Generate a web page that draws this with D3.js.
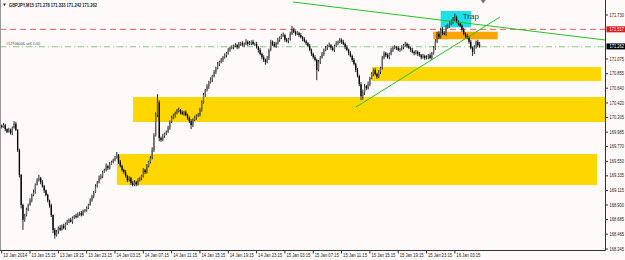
<!DOCTYPE html>
<html lang="en">
<head>
<meta charset="UTF-8">
<title>GBPJPY M15</title>
<script src="https://cdn.jsdelivr.net/npm/d3@7"></script>
<style>
  body { margin: 0; background: #fffafa; }
  svg text { font-family: "Liberation Sans", "DejaVu Sans", sans-serif; }
</style>
</head>
<body>
<svg id="chart" width="625" height="260"></svg>
<script>
// header of the chart window
const symbolInfo = "GBPJPY,M15  171.278 171.333 171.242 171.262";
const orderText = "#12706006 sell 1.00";

// M15 candles, open = previous close
const firstOpen = 170.08;
const closes = [
  170.06,170.09,170.03,169.99,170.02,169.97,170.05,170.11,170.02,
  169.72,169.35,168.90,168.68,
  168.75,168.83,168.90,168.97,169.05,169.09,169.20,169.27,
  169.30,169.24,169.18,169.12,169.05,
  168.97,168.90,168.75,168.53,168.45,
  168.50,168.56,168.53,168.59,168.56,168.62,168.65,
  168.68,168.65,168.71,168.74,168.72,168.77,168.78,168.75,168.81,168.83,168.86,
  168.90,168.97,169.03,169.09,169.18,169.24,169.30,
  169.33,169.39,169.42,169.48,169.45,169.51,169.54,169.57,169.60,169.64,
  169.54,169.48,169.42,169.39,169.33,169.27,169.30,169.23,169.20,
  169.24,169.21,169.27,169.30,169.33,169.42,169.39,169.48,169.54,
  169.60,169.72,169.94,170.24,170.43,
  169.90,169.87,169.93,169.96,169.99,170.05,170.14,170.20,
  170.23,170.27,170.30,170.31,170.28,170.26,170.28,170.24,170.20,170.15,170.09,
  170.17,170.20,170.23,170.24,170.31,170.43,
  170.54,170.61,170.67,170.73,170.76,170.82,170.88,170.94,171.00,
  171.03,171.06,171.10,171.13,171.16,171.21,171.24,
  171.25,171.27,171.28,171.25,171.30,171.31,171.28,171.30,171.33,171.30,171.31,171.33,171.30,
  171.30,171.25,171.21,171.15,171.10,171.06,171.03,171.09,171.21,
  171.33,171.30,171.27,171.31,171.36,171.39,171.42,171.43,171.36,171.34,171.37,171.45,171.51,
  171.48,171.45,171.46,171.43,171.40,171.37,171.34,171.31,171.27,171.21,171.15,171.10,171.06,170.91,
  171.03,171.10,171.15,171.21,171.24,171.27,171.28,171.24,171.21,171.27,171.31,171.33,171.36,171.33,171.30,
  171.25,171.21,171.16,171.12,171.06,171.00,170.91,170.82,170.70,170.52,170.58,
  170.67,170.64,170.70,170.79,170.85,170.91,170.85,170.81,170.88,170.94,171.09,
  171.16,171.13,171.10,171.15,171.21,171.24,171.25,171.24,171.21,171.22,
  171.25,171.28,171.30,171.27,171.24,171.21,171.18,171.16,171.18,171.15,171.13,171.10,171.12,171.09,171.10,171.13,171.09,171.16,
  171.24,171.33,171.45,171.40,171.51,171.46,171.45,171.54,171.57,171.60,171.63,171.66,171.69,
  171.63,171.60,171.57,171.51,171.45,171.42,171.39,171.33,171.24,171.18,171.25,171.33,171.28,171.262
];
// wick lengths in pips (0.01)
const upWickPips = [
  2,3,2,1,3,2,2,4,3, 1,2,1,2, 2,3,2,3,2,4,2,3, 5,2,3,2,1, 2,1,2,1,3, 3,2,4,2,3,2,3,
  2,3,2,1,3,2,2,3,2,1,2, 2,3,2,2,3,2,4, 3,2,2,4,2,3,2,2,3,5, 2,3,2,2,3,2,3,2,3,
  3,2,3,2,2,3,2,3,2, 3,4,3,4,12, 3,2,3,2,2,3,2,3, 3,2,3,4,2,3,2,3,2,2,3, 2,3,2,3,4,3,
  3,2,3,2,4,2,3,2,3, 2,3,2,3,2,3,2, 3,2,3,2,3,2,3,2,4,2,3,2,3, 2,3,2,3,2,3,2,3,2,
  3,2,3,2,3,2,3,4,2,3,2,3,6, 3,2,3,2,3,2,3,2,2,3,2,2,3,2, 3,2,3,2,3,2,4,2,3,2,3,2,3,2,3,
  2,3,2,3,2,3,2,3,2,3,4, 3,2,4,2,3,2,3,2,3,2,3, 3,2,3,2,3,2,3,2,3,2,
  3,2,3,2,3,2,3,2,3,2,3,2,3,2,3,2,3,2, 3,4,3,4,3,4,3,4,3,4,3,4,6, 3,2,3,2,3,2,3,2,3,2,3,2,3,5
];
const downWickPips = [
  2,1,3,2,1,2,3,1,2, 3,4,5,15, 3,2,2,1,3,2,2,1, 2,3,2,4,2, 3,4,3,5,5, 2,3,2,1,2,3,2,
  2,1,3,2,2,1,3,2,1,2,3, 2,1,2,3,1,2,2, 2,3,1,2,3,2,1,2,2,1, 3,2,2,3,2,3,2,3,2,
  2,3,2,2,3,2,3,2,2, 2,2,3,2,3, 5,3,2,3,2,2,3,2, 2,3,2,2,3,2,3,2,3,3,6, 3,2,3,2,2,2,
  2,3,2,4,2,3,2,3,2, 3,2,3,2,3,2,3, 2,3,2,3,2,3,2,3,2,3,2,3,2, 3,2,4,2,3,3,4,2,3,
  2,3,2,3,2,3,2,2,3,2,3,2,2, 2,3,2,3,2,3,2,3,2,2,3,2,2,15, 2,3,2,3,2,3,2,3,2,3,2,3,2,3,2,
  3,2,3,2,3,2,3,2,3,6,5, 4,3,2,3,2,3,2,3,2,3,2, 2,3,2,3,2,3,2,3,2,3,
  2,3,2,3,2,3,2,3,2,3,2,3,2,3,2,3,2,3, 2,3,2,3,2,3,2,3,2,3,2,3,2, 2,3,2,3,2,3,2,3,2,6,3,2,3,2
];

// time axis: one label every 16 bars
const timeLabels = ["13 Jan 2014","13 Jan 15:15","13 Jan 19:15","13 Jan 23:15","14 Jan 03:15",
  "14 Jan 07:15","14 Jan 11:15","14 Jan 15:15","14 Jan 19:15","14 Jan 23:15","15 Jan 03:15",
  "15 Jan 07:15","15 Jan 11:15","15 Jan 15:15","15 Jan 19:15","15 Jan 23:15","16 Jan 03:15"];
const barsPerLabel = 16;
const priceTicks = [171.730,171.075,170.855,170.640,170.420,170.205,169.985,169.770,
  169.550,169.335,169.115,168.900,168.685,168.465,168.245];

// drawn objects, in bar index / price
const zoneNames = ["lowZone", "midZone", "highZone", "entryZone", "trapZone"];
const zoneBars = [[65.1, 336.3], [74.2, 341], [209.2, 338.6], [243.8, 280.2], [248, 265.1]];
const zonePrices = [[169.659, 169.198], [170.508, 170.136], [170.955, 170.747], [171.481, 171.368], [171.789, 171.546]];
const trendLines = [[164.6, 171.923, 341, 171.357], [200.2, 170.359, 281.5, 171.700]];
const stopPrice = 171.517;
const orderPrice = 171.257;
const bidPrice = 171.262;

const zoneColor = {lowZone: "#ffd700", midZone: "#ffd700", highZone: "#ffd700", entryZone: "#ffa500", trapZone: "#1ee0ea"};

const svg = d3.select("#chart");
const plotRight = 605.5, plotBottom = 250.5;

const x = d3.scaleLinear().domain([0, 341]).range([1.7, 605.3]);
const y = d3.scaleLinear().domain([168.245, 171.730]).range([249, 15]);

svg.append("rect").attr("width", 625).attr("height", 260).attr("fill", "#fffafa");

svg.append("clipPath").attr("id", "plot")
  .append("rect").attr("x", 0).attr("y", 0).attr("width", plotRight).attr("height", plotBottom);
const g = svg.append("g").attr("clip-path", "url(#plot)");

// zones behind the candles
g.selectAll("rect.zone").data(zoneNames).enter().append("rect")
  .attr("class", "zone")
  .attr("x", (d, i) => x(zoneBars[i][0]))
  .attr("width", (d, i) => x(zoneBars[i][1]) - x(zoneBars[i][0]))
  .attr("y", (d, i) => y(zonePrices[i][0]))
  .attr("height", (d, i) => y(zonePrices[i][1]) - y(zonePrices[i][0]))
  .attr("fill", d => zoneColor[d]);

// horizontal levels
g.append("line").attr("x1", 0).attr("x2", plotRight)
  .attr("y1", y(stopPrice)).attr("y2", y(stopPrice))
  .attr("stroke", "#e85a5a").attr("stroke-width", 1).attr("stroke-dasharray", "6,4");
g.append("line").attr("x1", 0).attr("x2", plotRight)
  .attr("y1", y(orderPrice)).attr("y2", y(orderPrice))
  .attr("stroke", "#7ccc7c").attr("stroke-width", 1).attr("stroke-dasharray", "6,3,1,3");

// candles
const candles = closes.map((c, i) => {
  const o = i === 0 ? firstOpen : closes[i - 1];
  return {
    i: i, o: o, c: c,
    h: Math.max(o, c) + (upWickPips[i] || 0) / 100,
    l: Math.min(o, c) - (downWickPips[i] || 0) / 100
  };
});
const cg = g.append("g");
cg.selectAll("line.wick").data(candles).enter().append("line")
  .attr("class", "wick")
  .attr("x1", d => x(d.i)).attr("x2", d => x(d.i))
  .attr("y1", d => y(d.h)).attr("y2", d => y(d.l))
  .attr("stroke", "#111").attr("stroke-width", 0.9);
cg.selectAll("rect.body").data(candles).enter().append("rect")
  .attr("class", "body")
  .attr("x", d => x(d.i) - 0.65).attr("width", 1.3)
  .attr("y", d => y(Math.max(d.o, d.c)))
  .attr("height", d => Math.max(0.8, Math.abs(y(d.o) - y(d.c))))
  .attr("fill", d => d.c >= d.o ? "#666" : "#000");

// trend lines
g.selectAll("line.trend").data(trendLines).enter().append("line")
  .attr("class", "trend")
  .attr("x1", d => x(d[0])).attr("y1", d => y(d[1]))
  .attr("x2", d => x(d[2])).attr("y2", d => y(d[3]))
  .attr("stroke", "#22c322").attr("stroke-width", 1);

// trap label
const trapIdx = zoneNames.indexOf("trapZone");
svg.append("text")
  .attr("x", x(zoneBars[trapIdx][0]) + 22).attr("y", y(zonePrices[trapIdx][0]) + 8)
  .attr("font-size", 8).attr("fill", "#333").text("Trap");

// window texts
svg.append("path").attr("d", "M3,3.5 L6,3.5 L4.5,6 Z").attr("fill", "#222");
svg.append("text").attr("x", 9).attr("y", 7).attr("font-size", 4.8).attr("font-weight", "bold")
  .attr("fill", "#222").attr("textLength", 88).attr("lengthAdjust", "spacingAndGlyphs")
  .text(symbolInfo);
svg.append("text").attr("x", 6).attr("y", y(orderPrice) - 1.8).attr("font-size", 4.4).attr("fill", "#445")
  .attr("textLength", 34).attr("lengthAdjust", "spacingAndGlyphs")
  .text(orderText);

// chart shift marker
const shiftX = x(272);
svg.append("path").attr("d", `M${shiftX - 2.5},0 L${shiftX + 2.5},0 L${shiftX},3.5 Z`).attr("fill", "#777");

// frame
svg.append("line").attr("x1", 0.5).attr("x2", 0.5).attr("y1", 0).attr("y2", plotBottom).attr("stroke", "#999");
svg.append("line").attr("x1", plotRight).attr("x2", plotRight).attr("y1", 0).attr("y2", plotBottom).attr("stroke", "#333");
svg.append("line").attr("x1", 0).attr("x2", plotRight).attr("y1", plotBottom).attr("y2", plotBottom).attr("stroke", "#333");

// price axis
const pa = svg.append("g");
pa.selectAll("line").data(priceTicks).enter().append("line")
  .attr("x1", plotRight).attr("x2", plotRight + 2.5)
  .attr("y1", d => y(d)).attr("y2", d => y(d)).attr("stroke", "#333");
pa.selectAll("text").data(priceTicks).enter().append("text")
  .attr("x", plotRight + 4).attr("y", d => y(d) + 1.6)
  .attr("font-size", 4.6).attr("fill", "#222")
  .attr("textLength", 14.5).attr("lengthAdjust", "spacingAndGlyphs")
  .text(d => d.toFixed(3));

function priceTag(p, bg) {
  svg.append("rect").attr("x", plotRight + 1).attr("y", y(p) - 3)
    .attr("width", 625 - plotRight - 1).attr("height", 6).attr("fill", bg);
  svg.append("text").attr("x", plotRight + 4).attr("y", y(p) + 1.6)
    .attr("font-size", 4.6).attr("fill", "#fff")
    .attr("textLength", 14.5).attr("lengthAdjust", "spacingAndGlyphs")
    .text(p.toFixed(3));
}
priceTag(stopPrice, "#e01818");
priceTag(bidPrice, "#000");

// time axis
const ta = svg.append("g");
ta.selectAll("line").data(timeLabels).enter().append("line")
  .attr("x1", (d, i) => x(i * barsPerLabel)).attr("x2", (d, i) => x(i * barsPerLabel))
  .attr("y1", plotBottom).attr("y2", plotBottom + 3).attr("stroke", "#333");
ta.selectAll("text").data(timeLabels).enter().append("text")
  .attr("x", (d, i) => x(i * barsPerLabel) + 1.5).attr("y", 257)
  .attr("font-size", 4.6).attr("fill", "#222")
  .attr("textLength", 24).attr("lengthAdjust", "spacingAndGlyphs")
  .text(d => d);
</script>
</body>
</html>
